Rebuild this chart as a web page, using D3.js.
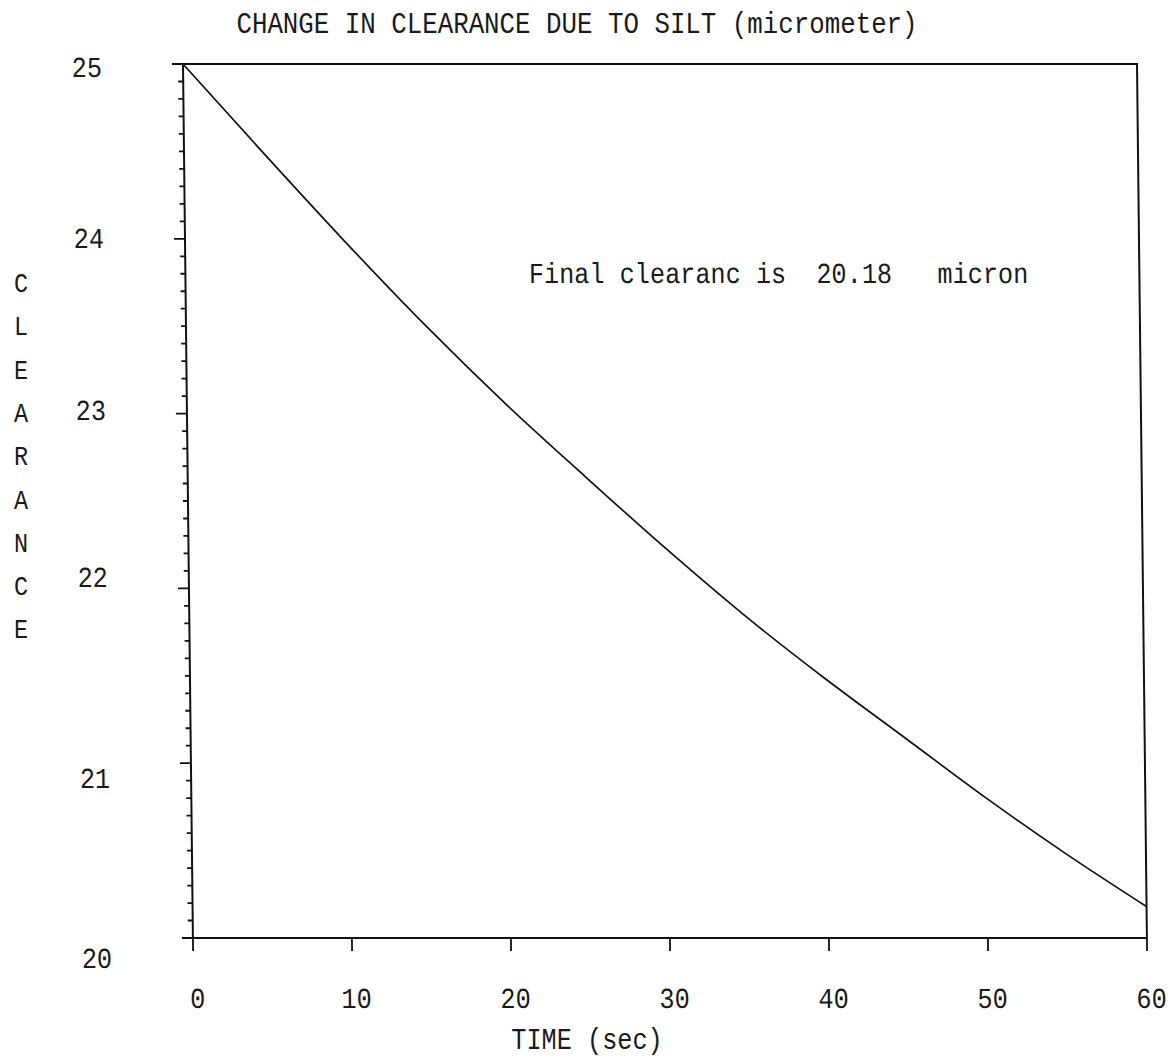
<!DOCTYPE html>
<html>
<head>
<meta charset="utf-8">
<script src="https://cdn.jsdelivr.net/npm/d3@7"></script>
<style>
  html, body { margin: 0; padding: 0; background: #fff; }
  svg { display: block; }
  text { font-family: "Liberation Mono", "DejaVu Sans Mono", monospace; fill: #1a1a1a; }
</style>
</head>
<body>
<script>
// Silt clearance run: time (s) vs clearance (micrometer)
const timeSec   = [0, 5, 10, 15, 20, 25, 30, 35, 40, 45, 50, 55, 60];
const clearance = [25.00, 24.49, 23.99, 23.51, 23.06, 22.64, 22.23, 21.84, 21.48, 21.14, 20.80, 20.48, 20.18];
const xTicks = [0, 10, 20, 30, 40, 50, 60];
const yTicks = [20, 21, 22, 23, 24, 25];
const finalClearance = clearance[clearance.length - 1];

const W = 1170, H = 1059;
const plot = { left: 183, top: 64, width: 954, height: 874 };
const skewDeg = 0.65;   // pen plotter drift: verticals lean slightly
const ink = "#111";
const glyphSqueeze = 0.87;

const svg = d3.select("body").append("svg")
  .attr("width", W).attr("height", H)
  .attr("viewBox", `0 0 ${W} ${H}`);

const x = d3.scaleLinear().domain([0, 60]).range([0, plot.width]);
const y = d3.scaleLinear().domain([20, 25]).range([plot.height, 0]);

const g = svg.append("g")
  .attr("transform", `translate(${plot.left},${plot.top}) skewX(${skewDeg})`);

// Frame
g.append("rect")
  .attr("x", 0).attr("y", 0)
  .attr("width", plot.width).attr("height", plot.height)
  .attr("fill", "none").attr("stroke", ink).attr("stroke-width", 2);

// Y axis: major ticks every 1, minor every 0.1, pointing outward
const yMinor = d3.range(200, 251).map(v => v / 10);
g.append("g").selectAll("line").data(yMinor).join("line")
  .attr("x1", v => Math.abs(v - Math.round(v)) < 1e-6 ? -11 : -5)
  .attr("x2", 0)
  .attr("y1", v => y(v)).attr("y2", v => y(v))
  .attr("stroke", ink).attr("stroke-width", 1.8);

// Y tick labels (plotter placement wobble per label)
const yNudge = { 25: 3, 24: -1, 23: -4, 22: -11, 21: 15, 20: 20 };
g.append("g").selectAll("text").data(yTicks).join("text")
  .attr("text-anchor", "end")
  .attr("font-size", 29)
  .attr("transform", v => `translate(-81,${y(v) + yNudge[v] + 10}) scale(${glyphSqueeze},1)`)
  .text(v => v);

// X axis ticks pointing down
g.append("g").selectAll("line").data(xTicks).join("line")
  .attr("x1", v => x(v)).attr("x2", v => x(v))
  .attr("y1", plot.height).attr("y2", plot.height + 13)
  .attr("stroke", ink).attr("stroke-width", 1.8);

g.append("g").selectAll("text").data(xTicks).join("text")
  .attr("text-anchor", "middle")
  .attr("font-size", 29)
  .attr("transform", v => `translate(${x(v) + 4},${plot.height + 70}) scale(${glyphSqueeze},1)`)
  .text(v => v);

// Clearance curve
const line = d3.line()
  .x((d, i) => x(timeSec[i]))
  .y(d => y(d))
  .curve(d3.curveMonotoneX);

g.append("path")
  .datum(clearance)
  .attr("d", line)
  .attr("fill", "none")
  .attr("stroke", ink)
  .attr("stroke-width", 1.7);

// Final value note
g.append("text")
  .attr("font-size", 29)
  .attr("xml:space", "preserve")
  .attr("transform", `translate(${x(21.6)},${y(23.75)}) scale(${glyphSqueeze},1)`)
  .text(`Final clearanc is  ${finalClearance.toFixed(2)}   micron`);

// Title
svg.append("text")
  .attr("text-anchor", "middle")
  .attr("font-size", 29)
  .attr("transform", `translate(577,33) scale(${glyphSqueeze + 0.02},1)`)
  .text("CHANGE IN CLEARANCE DUE TO SILT (micrometer)");

// X axis title
svg.append("text")
  .attr("text-anchor", "middle")
  .attr("font-size", 29)
  .attr("transform", `translate(587,1049) scale(${glyphSqueeze},1)`)
  .text("TIME (sec)");

// Y axis title, stacked letters
const yTitle = "CLEARANCE".split("");
svg.append("g").selectAll("text").data(yTitle).join("text")
  .attr("text-anchor", "middle")
  .attr("font-size", 27)
  .attr("transform", (c, i) => `translate(21,${292 + i * 43.3}) scale(${glyphSqueeze},1)`)
  .text(c => c);
</script>
</body>
</html>
